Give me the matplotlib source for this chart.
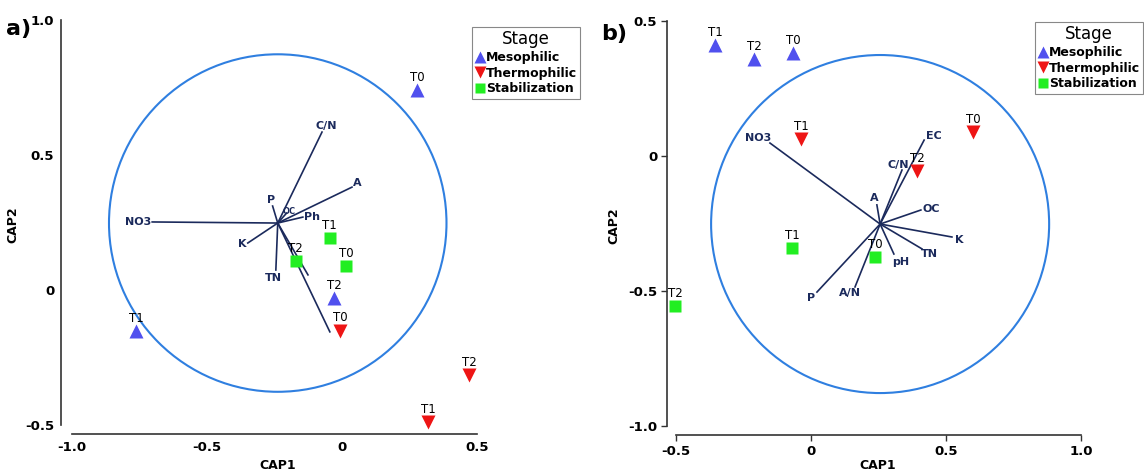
import matplotlib
matplotlib.use("Agg")
import matplotlib.pyplot as plt
from matplotlib.patches import Circle
from matplotlib.lines import Line2D

plt.rcParams['font.family'] = ['DejaVu Sans']

# ---------------- data ----------------
stages = ["Mesophilic", "Thermophilic", "Stabilization"]
sample_labels = ["T0", "T1", "T2"]

# Panel a) sample scores (CAP1, CAP2), order T0, T1, T2
a_meso_x = [0.279, -0.762, -0.030]
a_meso_y = [0.740, -0.152, -0.030]
a_thermo_x = [-0.007, 0.320, 0.470]
a_thermo_y = [-0.150, -0.490, -0.315]
a_stab_x = [0.015, -0.045, -0.171]
a_stab_y = [0.089, 0.193, 0.107]

# Panel a) environmental vectors
a_origin = (-0.238, 0.248)
a_vec_names = ["NO3", "C/N", "A", "P", "OC", "Ph", "K", "TN", "", ""]
a_vec_x = [-0.703, -0.074, 0.037, -0.257, -0.205, -0.145, -0.349, -0.245, -0.126, -0.045]
a_vec_y = [0.252, 0.585, 0.381, 0.311, 0.285, 0.270, 0.174, 0.074, 0.056, -0.155]
a_radius = 0.625

# Panel b) sample scores
b_meso_x = [-0.067, -0.356, -0.211]
b_meso_y = [0.381, 0.411, 0.359]
b_thermo_x = [0.600, -0.037, 0.393]
b_thermo_y = [0.089, 0.063, -0.056]
b_stab_x = [0.237, -0.070, -0.504]
b_stab_y = [-0.374, -0.341, -0.556]

# Panel b) environmental vectors
b_origin = (0.256, -0.252)
b_vec_names = ["NO3", "EC", "C/N", "A", "OC", "K", "TN", "pH", "A/N", "P"]
b_vec_x = [-0.152, 0.419, 0.337, 0.244, 0.407, 0.522, 0.411, 0.307, 0.163, 0.022]
b_vec_y = [0.048, 0.059, -0.052, -0.181, -0.200, -0.300, -0.344, -0.363, -0.485, -0.504]
b_radius = 0.626

a_xticks = [-1.0, -0.5, 0.0, 0.5]
a_yticks = [-0.5, 0.0, 0.5, 1.0]
b_xticks = [-0.5, 0.0, 0.5, 1.0]
b_yticks = [-1.0, -0.5, 0.0, 0.5]

# ---------------- style ----------------
W, H = 1144, 475
COL = {"Mesophilic": "#5050ee", "Thermophilic": "#ee1515", "Stabilization": "#22ee22"}
MARK = {"Mesophilic": "^", "Thermophilic": "v", "Stabilization": "s"}
MSIZE = {"Mesophilic": 9.5, "Thermophilic": 9.5, "Stabilization": 8}
NAVY = "#1b2a5c"
CIRC = "#2f7fe0"

a_lab_style = {
    "NO3": dict(ha="right", va="center", off=(-1, 0)),
    "C/N": dict(ha="center", va="bottom", off=(3, 1)),
    "A": dict(ha="left", va="center", off=(1, 3)),
    "P": dict(ha="center", va="bottom", off=(-1, 1)),
    "OC": dict(ha="center", va="center", off=(2, 1), size=6),
    "Ph": dict(ha="left", va="center", off=(1, 0)),
    "K": dict(ha="right", va="center", off=(-1, -1)),
    "TN": dict(ha="center", va="top", off=(-2, -2)),
}
b_lab_style = {
    "NO3": dict(ha="right", va="bottom", off=(1, 0)),
    "EC": dict(ha="left", va="center", off=(1, 3)),
    "C/N": dict(ha="center", va="bottom", off=(-3, 0)),
    "A": dict(ha="center", va="bottom", off=(-2, 1)),
    "OC": dict(ha="left", va="center", off=(1, 1)),
    "K": dict(ha="left", va="center", off=(2, -2)),
    "TN": dict(ha="left", va="top", off=(-1, 0)),
    "pH": dict(ha="center", va="top", off=(5, -2)),
    "A/N": dict(ha="center", va="top", off=(-4, -1)),
    "P": dict(ha="right", va="top", off=(-1, -1)),
}

fig = plt.figure(figsize=(W / 100, H / 100), dpi=100)


def make_axes(x0, y0, k, xlim, ylim):
    lpx = x0 + xlim[0] * k
    rpx = x0 + xlim[1] * k
    tpx = y0 - ylim[1] * k
    bpx = y0 - ylim[0] * k
    ax = fig.add_axes([lpx / W, 1 - bpx / H, (rpx - lpx) / W, (bpx - tpx) / H])
    ax.set_xlim(*xlim)
    ax.set_ylim(*ylim)
    return ax


def fmt(v):
    return "0" if abs(v) < 1e-9 else "%.1f" % v


def draw_panel(ax, pts, origin, names, vx, vy, radius, lab_style, xticks, yticks,
               ticklen, ylabpad, xlabpad, tpad):
    ax.add_patch(Circle(origin, radius, fill=False, ec=CIRC, lw=1.5, zorder=1))
    for n, ex, ey in zip(names, vx, vy):
        ax.plot([origin[0], ex], [origin[1], ey], color=NAVY, lw=1.2, zorder=2)
        if n:
            st = lab_style[n]
            ax.annotate(n, (ex, ey), xytext=st["off"], textcoords="offset points",
                        ha=st["ha"], va=st["va"], color=NAVY,
                        fontsize=st.get("size", 8), fontweight="bold", zorder=4)
    for stage, (xs, ys) in zip(stages, pts):
        ax.plot(xs, ys, ls="none", marker=MARK[stage], ms=MSIZE[stage],
                color=COL[stage], mec="none", zorder=3, clip_on=False)
        for lab, x, y in zip(sample_labels, xs, ys):
            ax.annotate(lab, (x, y), xytext=(0, 4.5), textcoords="offset points",
                        ha="center", va="bottom", fontsize=8.5, color="black", zorder=5)
    for s in ["top", "right"]:
        ax.spines[s].set_visible(False)
    ax.spines["left"].set_bounds(yticks[0], yticks[-1])
    ax.spines["bottom"].set_bounds(xticks[0], xticks[-1])
    for s in ["left", "bottom"]:
        ax.spines[s].set_color("#333333")
        ax.spines[s].set_linewidth(1.2)
    ax.set_xticks(xticks)
    ax.set_xticklabels([fmt(v) for v in xticks])
    ax.set_yticks(yticks)
    ax.set_yticklabels([fmt(v) for v in yticks])
    ax.tick_params(length=ticklen, width=1.0, color="#333333", labelsize=9.5, pad=tpad)
    for t in ax.get_xticklabels() + ax.get_yticklabels():
        t.set_fontweight("bold")
    ax.set_xlabel("CAP1", fontsize=9, fontweight="bold", labelpad=xlabpad)
    ax.set_ylabel("CAP2", fontsize=9, fontweight="bold", labelpad=ylabpad)
    ax.patch.set_alpha(0)


def add_legend(x_px, y_px, loc):
    handles = [Line2D([], [], ls="none", marker=MARK[s], ms=MSIZE[s] * 0.95,
                      color=COL[s], mec="none", label=s) for s in stages]
    leg = fig.legend(handles=handles, title="Stage", loc=loc,
                     bbox_to_anchor=(x_px / W, 1 - y_px / H), bbox_transform=fig.transFigure,
                     frameon=True, fancybox=False, edgecolor="#888888", framealpha=1,
                     prop={"size": 9, "weight": "bold"}, title_fontsize=12,
                     handlelength=0.7, handletextpad=0.15, labelspacing=0.22,
                     borderpad=0.25, borderaxespad=0)
    leg.get_frame().set_linewidth(0.8)
    return leg


# Panel a
axa = make_axes(342, 290, 270, (-1.04, 0.56), (-0.533, 1.02))
draw_panel(axa,
           [(a_meso_x, a_meso_y), (a_thermo_x, a_thermo_y), (a_stab_x, a_stab_y)],
           a_origin, a_vec_names, a_vec_x, a_vec_y, a_radius, a_lab_style,
           a_xticks, a_yticks, 0, 4, 4, 5)

# Panel b
axb = make_axes(811, 156, 270, (-0.533, 1.03), (-1.033, 0.52))
draw_panel(axb,
           [(b_meso_x, b_meso_y), (b_thermo_x, b_thermo_y), (b_stab_x, b_stab_y)],
           b_origin, b_vec_names, b_vec_x, b_vec_y, b_radius, b_lab_style,
           b_xticks, b_yticks, 4, 6, 1, 3)

add_legend(472, 27, "upper left")
add_legend(1143, 22, "upper right")

fig.text(19 / W, 1 - 29 / H, "a)", fontsize=16, fontweight="bold", ha="center", va="center")
fig.text(614 / W, 1 - 34 / H, "b)", fontsize=16, fontweight="bold", ha="center", va="center")

fig.savefig("out.png", dpi=100)
